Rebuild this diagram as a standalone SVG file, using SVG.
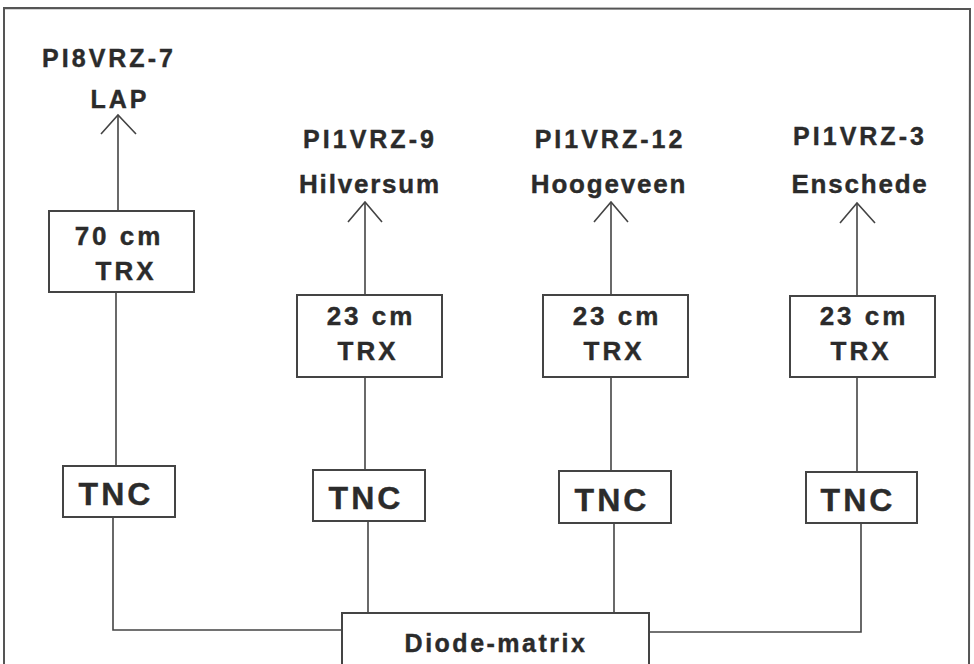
<svg xmlns="http://www.w3.org/2000/svg" width="974" height="664" viewBox="0 0 974 664">
<style>
.bg{fill:#ffffff}
.frame{fill:none;stroke:#555;stroke-width:2}
.box{fill:#ffffff;stroke:#444;stroke-width:2}
.wire{fill:none;stroke:#444;stroke-width:1.6}
text{font-family:"Liberation Sans",Arial,sans-serif;font-weight:bold;fill:#2b2b2b;text-anchor:middle;stroke:#2b2b2b;stroke-width:0.4}
.call{font-size:25px;letter-spacing:3px}
.city{font-size:26px;letter-spacing:1.8px}
.trx{font-size:26px;letter-spacing:3px}
.tnc{font-size:32px;letter-spacing:3px}
.dm{font-size:25px;letter-spacing:2.5px}
</style>
<rect class="bg" x="0" y="0" width="974" height="664"/>
<path class="frame" d="M4,670 L4,8 L970,9 L969,670"/>

<g id="connectors">
  <!-- column 1 -->
  <path class="wire" d="M118,115 L118,211"/>
  <path class="wire" d="M101,134 L118,115 L136,134"/>
  <path class="wire" d="M116,292 L116,466"/>
  <path class="wire" d="M113,517 L113,630 L342,630"/>
  <!-- column 2 -->
  <path class="wire" d="M365,202 L365,295"/>
  <path class="wire" d="M348,222 L365,202 L382,222"/>
  <path class="wire" d="M365,377 L365,470"/>
  <path class="wire" d="M368,521 L368,613"/>
  <!-- column 3 -->
  <path class="wire" d="M611,202 L611,295"/>
  <path class="wire" d="M594,222 L611,202 L628,222"/>
  <path class="wire" d="M611,377 L611,471"/>
  <path class="wire" d="M614,523 L614,613"/>
  <!-- column 4 -->
  <path class="wire" d="M857,203 L857,296"/>
  <path class="wire" d="M840,223 L857,203 L875,223"/>
  <path class="wire" d="M857,377 L857,472"/>
  <path class="wire" d="M861,523 L861,632 L649,632"/>
</g>

<g id="label1">
  <text class="call" x="109" y="67">PI8VRZ-7</text>
  <text class="call" x="120" y="108">LAP</text>
</g>
<g id="label2">
  <text class="call" x="370" y="148">PI1VRZ-9</text>
  <text class="city" x="370" y="193">Hilversum</text>
</g>
<g id="label3">
  <text class="call" x="610" y="148">PI1VRZ-12</text>
  <text class="city" x="609" y="193">Hoogeveen</text>
</g>
<g id="label4">
  <text class="call" x="860" y="145">PI1VRZ-3</text>
  <text class="city" x="860" y="193">Enschede</text>
</g>

<g id="trx1">
  <rect class="box" x="49" y="211" width="145" height="81"/>
  <text class="trx" x="119" y="245">70 cm</text>
  <text class="trx" x="126" y="280">TRX</text>
</g>
<g id="trx2">
  <rect class="box" x="297" y="295" width="145" height="82"/>
  <text class="trx" x="371" y="325">23 cm</text>
  <text class="trx" x="368" y="360">TRX</text>
</g>
<g id="trx3">
  <rect class="box" x="543" y="295" width="145" height="82"/>
  <text class="trx" x="617" y="325">23 cm</text>
  <text class="trx" x="614" y="360">TRX</text>
</g>
<g id="trx4">
  <rect class="box" x="790" y="296" width="145" height="81"/>
  <text class="trx" x="864" y="325">23 cm</text>
  <text class="trx" x="861" y="360">TRX</text>
</g>

<g id="tnc1">
  <rect class="box" x="63" y="466" width="112" height="51"/>
  <text class="tnc" x="116" y="505">TNC</text>
</g>
<g id="tnc2">
  <rect class="box" x="313" y="470" width="112" height="51"/>
  <text class="tnc" x="366" y="509">TNC</text>
</g>
<g id="tnc3">
  <rect class="box" x="559" y="471" width="112" height="52"/>
  <text class="tnc" x="612" y="511">TNC</text>
</g>
<g id="tnc4">
  <rect class="box" x="806" y="472" width="111" height="51"/>
  <text class="tnc" x="858" y="511">TNC</text>
</g>

<g id="diode">
  <rect class="box" x="342" y="613" width="307" height="60"/>
  <text class="dm" x="496" y="652">Diode-matrix</text>
</g>
</svg>
